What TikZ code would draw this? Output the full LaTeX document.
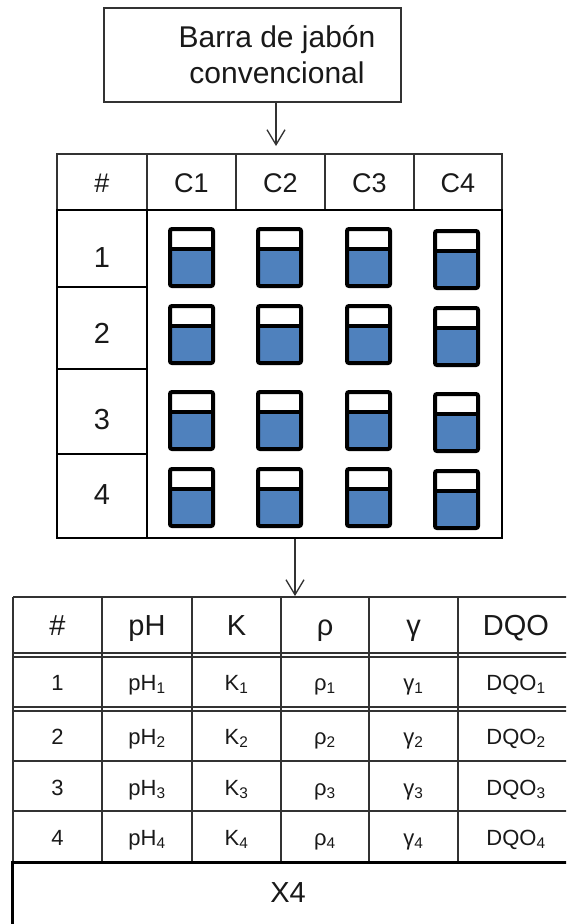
\documentclass[tikz,border=0pt]{standalone}
\usepackage{fontspec}
\setmainfont{Liberation Sans}
\usetikzlibrary{arrows.meta}
\definecolor{water}{RGB}{79,129,189}
\definecolor{ink}{RGB}{25,25,25}
\definecolor{rule}{RGB}{50,50,50}
\begin{document}
\begin{tikzpicture}[x=1pt,y=-1pt,
  txt/.style={text=ink, inner sep=0pt, anchor=base},
  big/.style={txt, font=\fontsize{30}{36}\selectfont},
  hdr/.style={txt, font=\fontsize{27}{30}\selectfont},
  num/.style={txt, font=\fontsize{29}{32}\selectfont},
  thd/.style={txt, font=\fontsize{29}{32}\selectfont},
  tcell/.style={txt, font=\fontsize{22}{26}\selectfont},
  tline/.style={draw=rule, line width=1.3pt},
  arr/.style={draw=rule, line width=1.3pt, -{Straight Barb[length=15pt,width=18pt,line width=1.3pt]}},
  beaker/.pic={
    \fill[water] (0,20) rectangle (43,57);
    \draw[black, line width=4pt, rounded corners=2pt] (0,0) rectangle (43,57);
    \draw[black, line width=3.5pt] (0,20) -- (43,20);
  }]
\useasboundingbox (0,0) rectangle (566,924);
\clip (0,0) rectangle (566,924);
\fill[white] (0,0) rectangle (566,924);

% source box
\node[draw=rule, line width=1.2pt, minimum width=297pt, minimum height=94pt, inner sep=0pt] (src) at (252.5,55) {};
\node[big] (srctext1) at (277,47.5) {Barra de jabón};
\node[big] (srctext2) at (277,83) {convencional};

% arrow 1
\coordinate (a1) at (276,146);
\draw[arr] (a1 |- src.south) -- (a1);

% header row of the sample grid
\foreach \x/\w/\n in {102/90/g0,191.5/89/g1,280.5/89/g2,369.5/89/g3,458/88/g4}{
  \node[tline, minimum width=\w pt, minimum height=56pt, inner sep=0pt] (\n) at (\x,182) {};
}
\node[hdr] (gt0) at (102,192) {\#};
\node[hdr] (gt1) at (191.5,192) {C1};
\node[hdr] (gt2) at (280.5,192) {C2};
\node[hdr] (gt3) at (369.5,192) {C3};
\node[hdr] (gt4) at (458,192) {C4};

% sample grid
\node[draw=black, line width=2.2pt, minimum width=445pt, minimum height=328pt, inner sep=0pt] (grid) at (279.5,374) {};
\draw[black, line width=2pt] (147,210) -- (147,538);
\draw[black, line width=2pt] (57,287) -- (147,287);
\draw[black, line width=2pt] (57,369) -- (147,369);
\draw[black, line width=2.6pt] (57,454) -- (147,454);
\node[num] (r1) at (102,267) {1};
\node[num] (r2) at (102,343) {2};
\node[num] (r3) at (102,429) {3};
\node[num] (r4) at (102,504) {4};

% beakers
\foreach \y in {229,306,392,469}{
  \foreach \x in {170,258,347}{
    \pic at (\x,\y) {beaker};
  }
  \pic at (435,\y+2) {beaker};
}

% arrow 2
\coordinate (a2) at (295,596);
\draw[arr] (a2 |- grid.south) -- (a2);

% results table
\foreach \y in {597,653,657,707,711,761,811}{
  \draw[tline] (13,\y) -- (580,\y);
}
\foreach \x in {13,102,192,281,369,458}{
  \draw[tline] (\x,597) -- (\x,862);
}
\draw[black, line width=3pt] (12,862) -- (580,862);
\draw[black, line width=3pt] (12,860.5) -- (12,930);

\node[thd] (th0) at (57.5,635) {\#};
\node[thd] (th1) at (147,635) {pH};
\node[thd] (th2) at (236.5,635) {K};
\node[thd] (th3) at (325,635) {ρ};
\node[thd] (th4) at (413.5,635) {γ};
\node[thd] (th5) at (516,635) {DQO};

\foreach \i/\y in {1/690,2/744,3/795,4/845}{
  \node[tcell] (n\i) at (57.5,\y) {\i};
  \node[tcell] (ph\i) at (147,\y) {pH\textsubscript{\i}};
  \node[tcell] (k\i) at (236.5,\y) {K\textsubscript{\i}};
  \node[tcell] (rho\i) at (325,\y) {ρ\textsubscript{\i}};
  \node[tcell] (gam\i) at (413.5,\y) {γ\textsubscript{\i}};
  \node[tcell] (dqo\i) at (516,\y) {DQO\textsubscript{\i}};
}

\node[thd] (x4) at (288,902) {X4};
\end{tikzpicture}
\end{document}
